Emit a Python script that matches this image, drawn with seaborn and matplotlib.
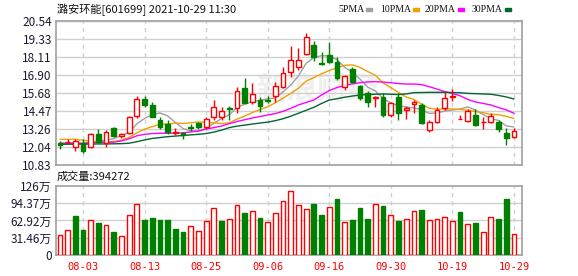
import numpy as np
import pandas as pd
import matplotlib
matplotlib.use("Agg")
import matplotlib.pyplot as plt
from matplotlib.patches import Rectangle
import seaborn as sns

# ---------------- data ----------------
title = "潞安环能[601699] 2021-10-29 11:30"
tick_dates = ["08-03", "08-13", "08-25", "09-06", "09-16", "09-30", "10-19", "10-29"]
tick_pos = [3, 11, 19, 27, 35, 43, 51, 59]

open_ = [12.28, 12.36, 12.06, 12.29, 12.07, 12.95, 12.29, 13.30, 12.79, 12.97,
         14.13, 15.28, 14.88, 13.87, 13.57, 12.97, 12.97, 13.41, 13.68, 13.37,
         14.05, 14.05, 14.65, 14.65, 16.00, 15.10, 15.21, 15.19, 15.48, 16.11,
         17.12, 17.46, 18.32, 18.92, 17.71, 18.25, 17.80, 16.11, 17.28, 16.16,
         15.66, 15.33, 15.40, 14.20, 15.44, 14.54, 14.92, 14.88, 13.19, 13.75,
         14.69, 15.42, 13.90, 13.80, 14.20, 13.73, 13.75, 13.75, 13.01, 12.70]
close = [12.21, 12.40, 12.45, 11.79, 12.92, 12.40, 13.08, 12.79, 12.89, 14.05,
         15.26, 14.88, 14.09, 13.41, 13.06, 13.04, 12.85, 13.30, 13.36, 13.95,
         14.72, 14.47, 14.59, 15.84, 15.03, 15.62, 14.81, 15.15, 16.16, 17.05,
         17.91, 17.91, 19.44, 18.09, 17.67, 17.80, 16.68, 16.83, 16.45, 15.33,
         15.10, 15.44, 14.20, 15.03, 14.36, 14.69, 15.10, 13.64, 13.75, 14.54,
         15.33, 15.45, 13.92, 14.49, 13.53, 13.76, 14.13, 13.26, 12.67, 13.14]
high = [12.47, 12.58, 12.55, 12.56, 12.97, 13.24, 13.19, 13.41, 13.01, 14.13,
        15.48, 15.48, 15.08, 14.05, 13.87, 13.30, 13.08, 13.57, 13.75, 14.09,
        15.21, 14.72, 14.81, 16.11, 16.68, 16.34, 15.40, 15.48, 16.45, 17.42,
        18.85, 18.70, 19.71, 19.21, 18.43, 19.10, 18.09, 16.90, 17.42, 16.22,
        15.84, 15.48, 15.66, 15.10, 15.66, 14.81, 15.21, 14.99, 13.87, 14.76,
        15.73, 15.93, 14.20, 14.59, 14.59, 14.09, 14.32, 13.87, 13.30, 13.30]
low = [11.89, 12.23, 11.79, 11.66, 11.97, 12.29, 12.06, 12.74, 12.63, 12.90,
       13.98, 14.76, 14.05, 13.24, 12.90, 12.85, 12.56, 13.14, 13.24, 13.26,
       13.87, 13.87, 13.87, 14.36, 14.99, 14.94, 14.42, 14.99, 15.10, 16.00,
       16.78, 17.24, 18.25, 17.86, 17.57, 17.69, 16.56, 15.89, 16.34, 15.21,
       14.76, 14.72, 14.05, 14.09, 13.87, 13.91, 14.36, 13.60, 13.08, 13.64,
       14.54, 15.17, 13.90, 13.75, 13.46, 13.26, 13.68, 13.08, 12.18, 12.63]

ma5 = [12.30, 12.30, 12.32, 12.27, 12.35, 12.39, 12.53, 12.60, 12.82, 13.04,
       13.61, 13.97, 14.23, 14.34, 14.14, 13.70, 13.29, 13.13, 13.12, 13.30,
       13.64, 13.96, 14.22, 14.71, 14.93, 15.11, 15.18, 15.29, 15.35, 15.76,
       16.22, 16.84, 17.69, 18.08, 18.20, 18.18, 17.94, 17.41, 17.09, 16.62,
       16.08, 15.83, 15.30, 15.02, 14.83, 14.74, 14.68, 14.56, 14.31, 14.34,
       14.47, 14.54, 14.60, 14.75, 14.54, 14.23, 13.97, 13.83, 13.47, 13.39]
ma10 = [12.56, 12.56, 12.56, 12.50, 12.42, 12.40, 12.40, 12.42, 12.50, 12.70,
        13.00, 13.25, 13.42, 13.58, 13.59, 13.66, 13.63, 13.68, 13.73, 13.72,
        13.67, 13.63, 13.68, 13.92, 14.12, 14.37, 14.57, 14.75, 15.03, 15.34,
        15.66, 16.01, 16.49, 16.72, 16.98, 17.20, 17.39, 17.55, 17.58, 17.41,
        17.13, 16.88, 16.36, 16.05, 15.72, 15.41, 15.25, 14.93, 14.66, 14.59,
        14.61, 14.61, 14.58, 14.53, 14.44, 14.35, 14.25, 14.22, 14.11, 13.97]
ma20 = [12.29, 12.29, 12.29, 12.30, 12.33, 12.35, 12.36, 12.37, 12.45, 12.60,
        12.80, 12.90, 12.95, 12.97, 12.97, 12.98, 13.00, 13.06, 13.12, 13.25,
        13.35, 13.46, 13.62, 13.76, 13.88, 14.00, 14.10, 14.20, 14.30, 14.45,
        14.65, 14.88, 15.05, 15.21, 15.55, 15.85, 16.05, 16.20, 16.30, 16.38,
        16.43, 16.45, 16.42, 16.38, 16.32, 16.29, 16.29, 16.25, 16.11, 15.95,
        15.78, 15.65, 15.50, 15.25, 15.08, 14.98, 14.88, 14.70, 14.55, 14.32]
ma30 = [12.23, 12.23, 12.24, 12.24, 12.24, 12.25, 12.25, 12.26, 12.27, 12.30,
        12.40, 12.52, 12.62, 12.68, 12.74, 12.78, 12.82, 12.86, 12.90, 12.95,
        13.05, 13.18, 13.35, 13.45, 13.52, 13.59, 13.66, 13.72, 13.82, 13.95,
        14.12, 14.32, 14.52, 14.72, 14.98, 15.21, 15.30, 15.40, 15.48, 15.55,
        15.58, 15.60, 15.62, 15.60, 15.58, 15.62, 15.71, 15.72, 15.73, 15.73,
        15.73, 15.72, 15.70, 15.66, 15.64, 15.62, 15.60, 15.52, 15.42, 15.28]

volume = [36.5, 45.6, 71.8, 45.6, 63.9, 59.0, 54.8, 42.6, 34.7, 73.0,
          93.0, 63.9, 67.6, 64.0, 64.0, 47.5, 42.0, 53.0, 43.8, 62.0,
          85.8, 62.0, 65.7, 91.3, 76.7, 80.3, 67.6, 60.0, 76.7, 98.6,
          117.0, 91.3, 83.4, 93.0, 73.0, 87.0, 102.0, 59.6, 64.0, 85.8,
          65.7, 93.0, 89.5, 72.5, 62.0, 65.0, 79.8, 82.0, 63.3, 65.0,
          68.8, 61.5, 78.5, 56.6, 58.4, 41.4, 68.8, 65.7, 102.0, 38.3]
vol_up = [1, 1, 0, 0, 1, 0, 1, 0, 1, 1,
          1, 0, 0, 0, 0, 0, 0, 1, 1, 1,
          1, 0, 1, 1, 0, 1, 0, 1, 1, 1,
          1, 1, 1, 0, 0, 1, 0, 1, 0, 0,
          0, 1, 0, 1, 0, 1, 1, 0, 1, 1,
          1, 1, 0, 1, 0, 1, 1, 0, 0, 1]

price_ticks = [10.83, 12.04, 13.26, 14.47, 15.68, 16.90, 18.11, 19.33, 20.54]
price_labels = ["10.83", "12.04", "13.26", "14.47", "15.68", "16.90", "18.11", "19.33", "20.54"]
vol_ticks = [0, 31.46, 62.92, 94.37, 125.83]
vol_labels = ["0", "31.46万", "62.92万", "94.37万", "126万"]
ma_names = ["5PMA", "10PMA", "20PMA", "30PMA"]
ma_colors = ["#a0a0a0", "#f0a000", "#ff00ff", "#006633"]
last_volume = "成交量:394272"

# ---------------- style ----------------
sns.set_style("white")
plt.rcParams['font.family'] = ['Noto Sans CJK SC', 'DejaVu Sans']

RED = "#ff0000"
GREEN = "#008000"
GRID = "#d0d0d0"
FRAME = "#a0a0a0"
TXT = "#1a1a33"

W, H = 578, 276
fig = plt.figure(figsize=(W / 100, H / 100), dpi=100)
fig.patch.set_facecolor("white")

L, R = 56, 522
ax = fig.add_axes([L / W, 1 - 165 / H, (R - L) / W, 144 / H])
axv = fig.add_axes([L / W, 1 - 255 / H, (R - L) / W, 69 / H])

n = len(close)
idx = np.arange(n)
df = pd.DataFrame({"i": idx, "open": open_, "close": close, "high": high, "low": low,
                   "ma5": ma5, "ma10": ma10, "ma20": ma20, "ma30": ma30,
                   "vol": volume, "up": vol_up})

xlim = (-0.51, 60.05)
bw = 0.62

# watermark
ax.text(0.56, 0.52, "新浪财经", transform=ax.transAxes, fontsize=22, color="#efefef",
        ha="center", va="center", zorder=0, fontweight="bold")

# grids
for t in price_ticks:
    ax.axhline(t, color=GRID, lw=1, zorder=0.5)
for p in tick_pos:
    ax.axvline(p, color=GRID, lw=1, ls=(0, (3, 3)), zorder=0.5)
    axv.axvline(p, color=GRID, lw=1, ls=(0, (3, 3)), zorder=0.5)
for t in vol_ticks[1:-1]:
    axv.axhline(t, color=GRID, lw=1, zorder=0.5)

# moving averages
for col, c in zip(["ma5", "ma10", "ma20", "ma30"], ma_colors):
    sns.lineplot(data=df, x="i", y=col, ax=ax, color=c, linewidth=1.0, legend=False, zorder=2)

# candles
for i in range(n):
    o, c_, h, l = open_[i], close[i], high[i], low[i]
    up = c_ >= o
    col = RED if up else GREEN
    ax.plot([i, i], [l, h], color=col, lw=1, zorder=3, solid_capstyle="butt")
    bottom = min(o, c_)
    height = max(abs(c_ - o), 0.02)
    ax.bar(i, height, bottom=bottom, width=bw, color="white" if up else GREEN,
           edgecolor=col, linewidth=1, zorder=4)

# volume
for i in range(n):
    up = vol_up[i] == 1
    axv.bar(i, volume[i], width=bw, color="white" if up else GREEN,
            edgecolor=RED if up else GREEN, linewidth=1, zorder=3)

# axes formatting
ax.set_xlim(*xlim)
ax.set_ylim(price_ticks[0], price_ticks[-1])
ax.set_yticks(price_ticks)
ax.set_yticklabels(price_labels)
ax.set_xticks([])
ax.set_xlabel("")
ax.set_ylabel("")
ax.tick_params(axis="y", length=0, pad=3, labelsize=8.5, labelcolor=TXT)

axv.set_xlim(*xlim)
axv.set_ylim(0, vol_ticks[-1])
axv.set_yticks(vol_ticks)
axv.set_yticklabels(vol_labels)
axv.set_xticks(tick_pos)
axv.set_xticklabels(tick_dates, family=["DejaVu Sans Mono"])
axv.tick_params(axis="y", length=0, pad=3, labelsize=8.5, labelcolor=TXT)
axv.tick_params(axis="x", length=0, pad=5, labelsize=7.5, labelcolor=RED)
axv.set_xlabel("")
axv.set_ylabel("")

for a in (ax, axv):
    for s in a.spines.values():
        s.set_color(FRAME)
        s.set_linewidth(1.2)
        s.set_visible(True)

# texts
fig.text(57 / W, 1 - 10 / H, title, fontsize=8, color="#111111", ha="left", va="center")
fig.text(57 / W, 1 - 177 / H, last_volume, fontsize=8, color="#111111", ha="left", va="center")

# legend
leg_x = [338, 380, 425, 472]
sw_x = [366, 413, 458, 505]
for x0, sx, name, c in zip(leg_x, sw_x, ma_names, ma_colors):
    fig.text(x0 / W, 1 - 9.5 / H, name, fontsize=7, color="#111111", ha="left", va="center",
             family=["Liberation Serif"])
    fig.patches.append(Rectangle((sx / W, 1 - 11 / H), 6 / W, 3 / H,
                                 transform=fig.transFigure, color=c, figure=fig))

fig.savefig("out.png", dpi=100)
